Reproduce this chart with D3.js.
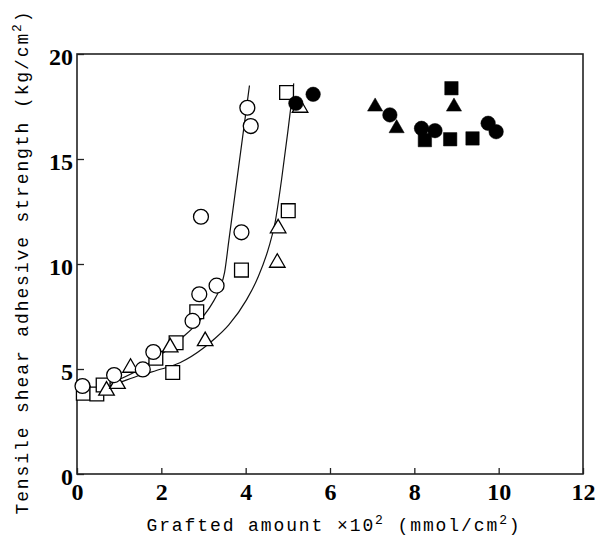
<!DOCTYPE html>
<html>
<head>
<meta charset="utf-8">
<script src="https://cdn.jsdelivr.net/npm/d3@7"></script>
<style>
  body { margin: 0; background: #fff; }
  svg { display: block; }
</style>
</head>
<body>
<svg id="chart" width="601" height="536"></svg>
<script>
// data: [grafted amount x10^2, strength]
const openCircles = [[0.13, 4.19], [0.88, 4.71], [1.56, 4.98], [1.81, 5.81], [2.74, 7.29],
  [2.90, 8.56], [3.31, 8.97], [2.94, 12.25], [3.90, 11.51], [4.04, 17.44], [4.12, 16.57]];
const openSquares = [[0.15, 3.85], [0.47, 3.81], [0.62, 4.24], [1.87, 5.51], [2.35, 6.25],
  [2.27, 4.83], [2.84, 7.73], [3.90, 9.71], [4.97, 18.17], [5.01, 12.54]];
const openTriangles = [[0.70, 3.97], [0.96, 4.29], [1.27, 5.06], [2.21, 6.03], [3.04, 6.33],
  [4.75, 10.06], [4.77, 11.70], [5.29, 17.44]];
const filledCircles = [[5.19, 17.65], [5.60, 18.08], [7.42, 17.10], [8.17, 16.46],
  [8.49, 16.35], [9.75, 16.70], [9.94, 16.30]];
const filledTriangles = [[7.07, 17.49], [7.58, 16.46], [8.94, 17.49]];
const filledSquares = [[8.88, 18.37], [8.25, 15.90], [8.85, 15.94], [9.38, 15.98]];

// fitted curves
const curveA = [[0, 3.8], [0.5, 4.1], [1, 4.5], [1.5, 5.0], [2, 5.7], [2.5, 6.5], [2.92, 7.33],
  [3.2, 8.1], [3.4, 8.9], [3.5, 9.6], [3.6, 11.1], [4.09, 18.5]];
const curveB = [[0, 3.7], [0.5, 4.0], [1, 4.35], [1.5, 4.7], [2, 5.0], [2.44, 5.3], [3.0, 6.0],
  [3.23, 6.38], [3.6, 7.1], [4.02, 8.29], [4.3, 9.4], [4.55, 10.8], [4.7, 12.0], [4.85, 14.0],
  [5.0, 16.3], [5.14, 18.6]];

const xTicks = [0, 2, 4, 6, 8, 10, 12];
const yTicks = [0, 5, 10, 15, 20];

const margin = { top: 54, right: 18, bottom: 62, left: 77 },
  width = 601 - margin.left - margin.right,
  height = 536 - margin.top - margin.bottom;

const svg = d3.select("#chart")
  .append("g")
  .attr("transform", `translate(${margin.left},${margin.top})`);

const x = d3.scaleLinear().domain([0, 12]).range([0, width]);
const y = d3.scaleLinear().domain([0, 20]).range([height, 0]);

// axes, ticks pointing inward
const xAxis = svg.append("g")
  .attr("transform", `translate(0,${height})`)
  .call(d3.axisBottom(x).tickValues(xTicks).tickSize(-6).tickPadding(12).tickFormat(d3.format("d")));
const yAxis = svg.append("g")
  .call(d3.axisLeft(y).tickValues(yTicks).tickSize(-7).tickPadding(6).tickFormat(d3.format("d")));

[xAxis, yAxis].forEach((a) => {
  a.select(".domain").remove();
  a.selectAll("line").attr("stroke", "#222").attr("stroke-width", 1.3);
  a.selectAll("text")
    .attr("fill", "#000")
    .style("font-family", "'Liberation Serif', 'DejaVu Serif', serif")
    .style("font-weight", "bold")
    .style("font-size", "24px");
});
xAxis.selectAll("text").attr("dy", "0.71em").attr("y", 9);
yAxis.selectAll("text").attr("dy", "0.45em").attr("x", -4);

// frame
svg.append("rect")
  .attr("width", width)
  .attr("height", height)
  .attr("fill", "none")
  .attr("stroke", "#222")
  .attr("stroke-width", 1.6);

// fitted lines
const line = d3.line()
  .x((d) => x(d[0]))
  .y((d) => y(d[1]))
  .curve(d3.curveMonotoneX);

[curveA, curveB].forEach((c) => {
  svg.append("path")
    .datum(c)
    .attr("d", line)
    .attr("fill", "none")
    .attr("stroke", "#111")
    .attr("stroke-width", 1.2);
});

// markers
const marks = svg.append("g");
function drawSymbols(data, type, size, filled) {
  marks.selectAll(null)
    .data(data)
    .join("path")
    .attr("transform", (d) => `translate(${x(d[0])},${y(d[1])})`)
    .attr("d", d3.symbol().type(type).size(size))
    .attr("fill", filled ? "#000" : "#fff")
    .attr("stroke", "#000")
    .attr("stroke-width", filled ? 0.5 : 1.3);
}
drawSymbols(openSquares, d3.symbolSquare, 190, false);
drawSymbols(openTriangles, d3.symbolTriangle, 105, false);
drawSymbols(openCircles, d3.symbolCircle, 175, false);
drawSymbols(filledSquares, d3.symbolSquare, 180, true);
drawSymbols(filledTriangles, d3.symbolTriangle, 100, true);
drawSymbols(filledCircles, d3.symbolCircle, 165, true);

// axis titles
const titleFont = "'Liberation Mono', 'DejaVu Sans Mono', monospace";
const xTitle = svg.append("text")
  .attr("x", 334 - margin.left)
  .attr("y", 531 - margin.top)
  .attr("text-anchor", "middle")
  .style("font-family", titleFont)
  .style("font-size", "18px")
  .style("letter-spacing", "1.9px")
  .attr("fill", "#000");
xTitle.append("tspan").text("Grafted amount \u00d710");
xTitle.append("tspan").attr("dy", -7).style("font-size", "13px").text("2");
xTitle.append("tspan").attr("dy", 7).text(" (mmol/cm");
xTitle.append("tspan").attr("dy", -7).style("font-size", "13px").text("2");
xTitle.append("tspan").attr("dy", 7).text(")");

const yTitle = svg.append("text")
  .attr("transform", `translate(${28 - margin.left},${262 - margin.top}) rotate(-90)`)
  .attr("text-anchor", "middle")
  .style("font-family", titleFont)
  .style("font-size", "18px")
  .style("letter-spacing", "1.9px")
  .attr("fill", "#000");
yTitle.append("tspan").text("Tensile shear adhesive strength (kg/cm");
yTitle.append("tspan").attr("dy", -7).style("font-size", "13px").text("2");
yTitle.append("tspan").attr("dy", 7).text(")");
</script>
</body>
</html>
